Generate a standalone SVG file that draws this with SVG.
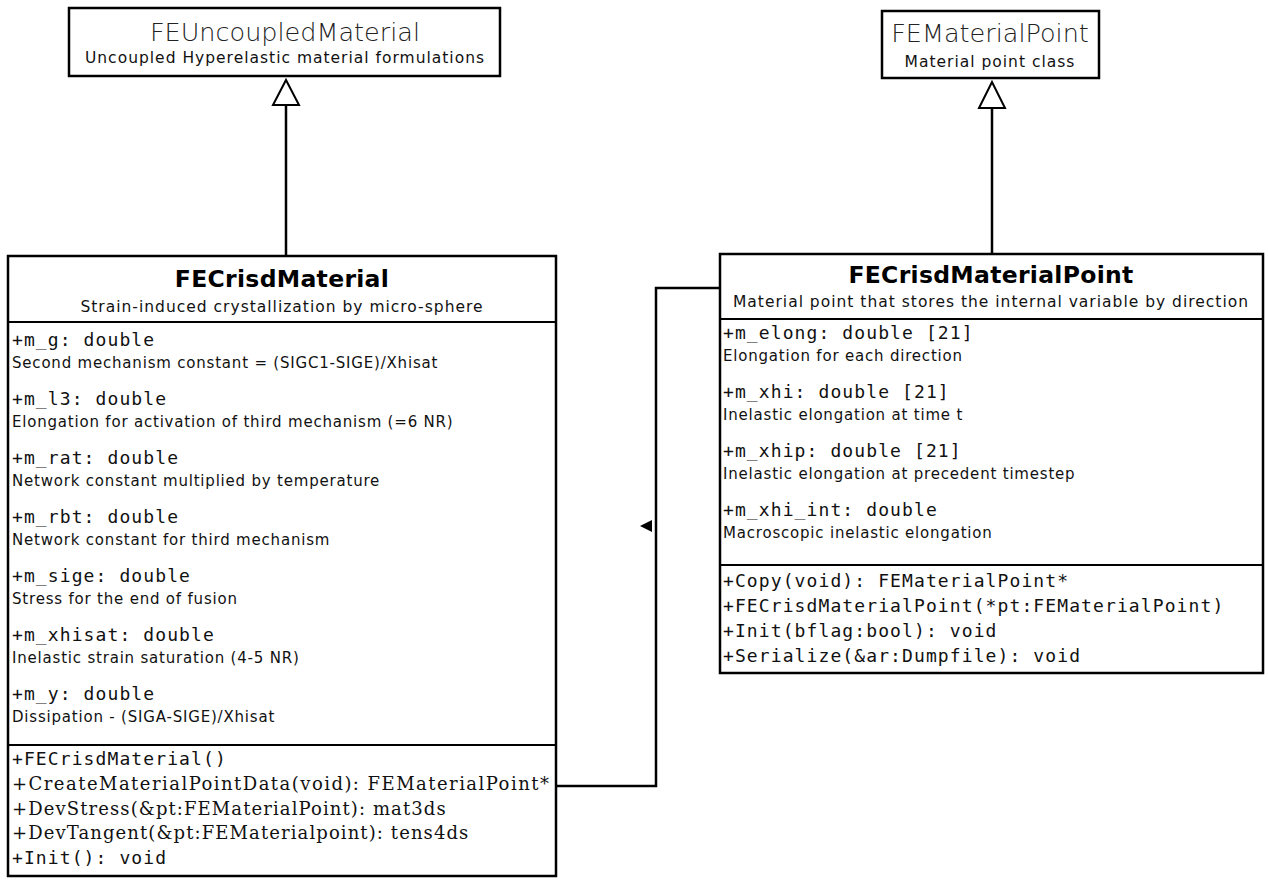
<svg xmlns="http://www.w3.org/2000/svg" width="1268" height="880" viewBox="0 0 1268 880">
<defs>
<style>
.box{fill:#fff;stroke:#000;stroke-width:2.5}
.sep{stroke:#000;stroke-width:2}
.edge{fill:none;stroke:#000;stroke-width:2.5}
.tri{fill:#fff;stroke:#000;stroke-width:2}
.ttl{font-family:"DejaVu Sans",sans-serif;font-size:25.5px;font-weight:200;fill:#222;text-anchor:middle}
.bt{font-family:"DejaVu Sans",sans-serif;font-size:23.5px;font-weight:bold;fill:#000;text-anchor:middle;letter-spacing:0.3px}
.sub{font-family:"DejaVu Sans",sans-serif;font-size:15.5px;letter-spacing:1px;fill:#111;text-anchor:middle}
.mono{font-family:"DejaVu Sans Mono",monospace;font-size:18px;letter-spacing:1.1px;fill:#111}
.desc{font-family:"DejaVu Sans",sans-serif;font-size:15px;letter-spacing:0.8px;fill:#111}
.serif{font-family:"DejaVu Serif",serif;font-size:18px;letter-spacing:1.1px;fill:#111}
</style>
</defs>
<rect width="1268" height="880" fill="#fff"/>

<g id="connectors">
<line class="edge" x1="286" y1="105" x2="286" y2="256"/>
<polygon class="tri" points="286,80 273,105 299,105"/>
<line class="edge" x1="992" y1="108" x2="992" y2="254"/>
<polygon class="tri" points="992,82 979,108 1005,108"/>
<polyline class="edge" points="556,786 656,786 656,288 720,288"/>
<polygon points="640,526 652,520 652,532" fill="#000"/>
</g>

<g id="FEUncoupledMaterial">
<rect class="box" x="69" y="8" width="431" height="68"/>
<text class="ttl" x="285" y="41">FEUncoupledMaterial</text>
<text class="sub" x="285" y="63">Uncoupled Hyperelastic material formulations</text>
</g>

<g id="FEMaterialPoint">
<rect class="box" x="882" y="11" width="217" height="67"/>
<text class="ttl" x="990" y="42">FEMaterialPoint</text>
<text class="sub" x="990" y="67">Material point class</text>
</g>

<g id="FECrisdMaterial">
<rect class="box" x="8" y="256" width="548" height="620"/>
<line class="sep" x1="8" y1="322" x2="556" y2="322"/>
<line class="sep" x1="8" y1="745" x2="556" y2="745"/>
<text class="bt" x="282" y="287">FECrisdMaterial</text>
<text class="sub" x="282" y="312">Strain-induced crystallization by micro-sphere</text>
<text class="mono" x="12" y="346">+m_g: double</text>
<text class="desc" x="12" y="368">Second mechanism constant = (SIGC1-SIGE)/Xhisat</text>
<text class="mono" x="12" y="405">+m_l3: double</text>
<text class="desc" x="12" y="427">Elongation for activation of third mechanism (=6 NR)</text>
<text class="mono" x="12" y="464">+m_rat: double</text>
<text class="desc" x="12" y="486">Network constant multiplied by temperature</text>
<text class="mono" x="12" y="523">+m_rbt: double</text>
<text class="desc" x="12" y="545">Network constant for third mechanism</text>
<text class="mono" x="12" y="582">+m_sige: double</text>
<text class="desc" x="12" y="604">Stress for the end of fusion</text>
<text class="mono" x="12" y="641">+m_xhisat: double</text>
<text class="desc" x="12" y="663">Inelastic strain saturation (4-5 NR)</text>
<text class="mono" x="12" y="700">+m_y: double</text>
<text class="desc" x="12" y="722">Dissipation - (SIGA-SIGE)/Xhisat</text>
<text class="mono" x="12" y="765">+FECrisdMaterial()</text>
<text class="serif" x="12" y="790" textLength="538" lengthAdjust="spacing">+CreateMaterialPointData(void): FEMaterialPoint*</text>
<text class="serif" x="12" y="815">+DevStress(&amp;pt:FEMaterialPoint): mat3ds</text>
<text class="serif" x="12" y="839">+DevTangent(&amp;pt:FEMaterialpoint): tens4ds</text>
<text class="mono" x="12" y="864">+Init(): void</text>
</g>

<g id="FECrisdMaterialPoint">
<rect class="box" x="720" y="254" width="543" height="419"/>
<line class="sep" x1="720" y1="319" x2="1263" y2="319"/>
<line class="sep" x1="720" y1="565" x2="1263" y2="565"/>
<text class="bt" x="991" y="283">FECrisdMaterialPoint</text>
<text class="sub" x="991" y="307">Material point that stores the internal variable by direction</text>
<text class="mono" x="723" y="339">+m_elong: double [21]</text>
<text class="desc" x="723" y="361">Elongation for each direction</text>
<text class="mono" x="723" y="398">+m_xhi: double [21]</text>
<text class="desc" x="723" y="420">Inelastic elongation at time t</text>
<text class="mono" x="723" y="457">+m_xhip: double [21]</text>
<text class="desc" x="723" y="479">Inelastic elongation at precedent timestep</text>
<text class="mono" x="723" y="516">+m_xhi_int: double</text>
<text class="desc" x="723" y="538">Macroscopic inelastic elongation</text>
<text class="mono" x="723" y="587">+Copy(void): FEMaterialPoint*</text>
<text class="mono" x="723" y="612">+FECrisdMaterialPoint(*pt:FEMaterialPoint)</text>
<text class="mono" x="723" y="637">+Init(bflag:bool): void</text>
<text class="mono" x="723" y="662">+Serialize(&amp;ar:Dumpfile): void</text>
</g>
</svg>
